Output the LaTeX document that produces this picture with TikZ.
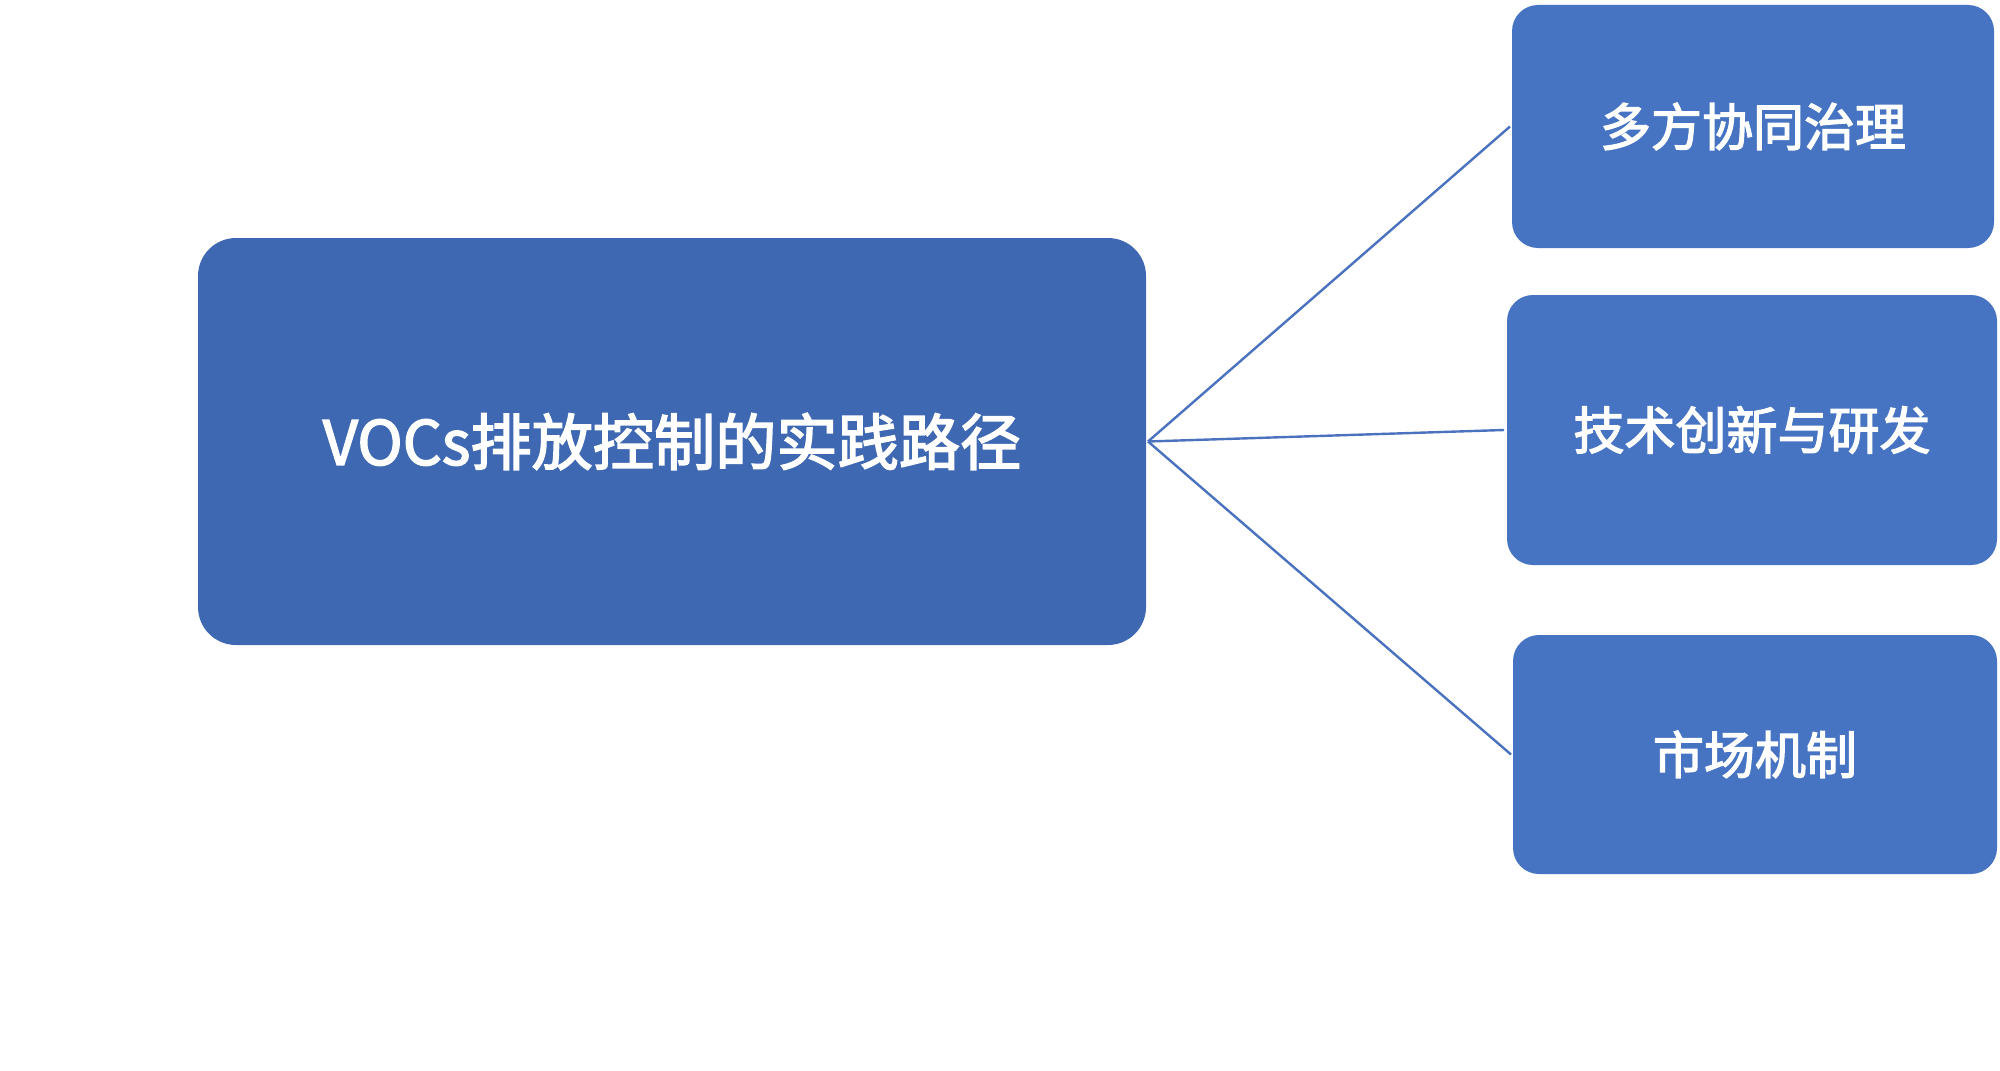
\documentclass[tikz,border=0pt]{standalone}
\usepackage{fontspec}
\setmainfont{Noto Sans CJK SC}
\newfontfamily\medcjk{Noto Sans CJK SC}[FakeBold=2.5]
\definecolor{mainblue}{HTML}{3E68B1}
\definecolor{boxblue}{HTML}{4674C2}
\definecolor{lineblue}{HTML}{4A72BE}
\newcommand{\lift}[1]{\raisebox{2.2pt}{#1}}
\begin{document}
\begin{tikzpicture}[x=0.5pt,y=-0.5pt,
  mainbox/.style={fill=mainblue, draw=none, rounded corners=19pt, inner sep=0pt, outer sep=0pt,
    minimum width=474pt, minimum height=203.5pt, text=white, font=\medcjk\fontsize{30.6}{36}\selectfont},
  childbox/.style={fill=boxblue, draw=none, rounded corners=13pt, inner sep=0pt, outer sep=0pt,
    text=white, font=\medcjk\fontsize{25.5}{31}\selectfont},
  link/.style={draw=lineblue, line width=1.2pt}]
\useasboundingbox (0,0) rectangle (2000,1070);
\fill[white] (0,0) rectangle (2000,1070);
\node[mainbox] (m) at (672,441.5) {\lift{VOCs排放控制的实践路径}};
\node[childbox, minimum width=241pt, minimum height=121.5pt] (a) at (1753,126.5) {\lift{多方协同治理}};
\node[childbox, minimum width=245pt, minimum height=135pt] (b) at (1752,430) {\lift{技术创新与研发}};
\node[childbox, minimum width=242pt, minimum height=119.5pt] (c) at (1755,754.5) {\lift{市场机制}};
\coordinate (j) at ([xshift=1pt]m.east);
\draw[link] (j) -- ([xshift=-1pt]a.west);
\draw[link] (j) -- ([xshift=-1.5pt]b.west);
\draw[link] (j) -- ([xshift=-1pt]c.west);
\end{tikzpicture}
\end{document}
